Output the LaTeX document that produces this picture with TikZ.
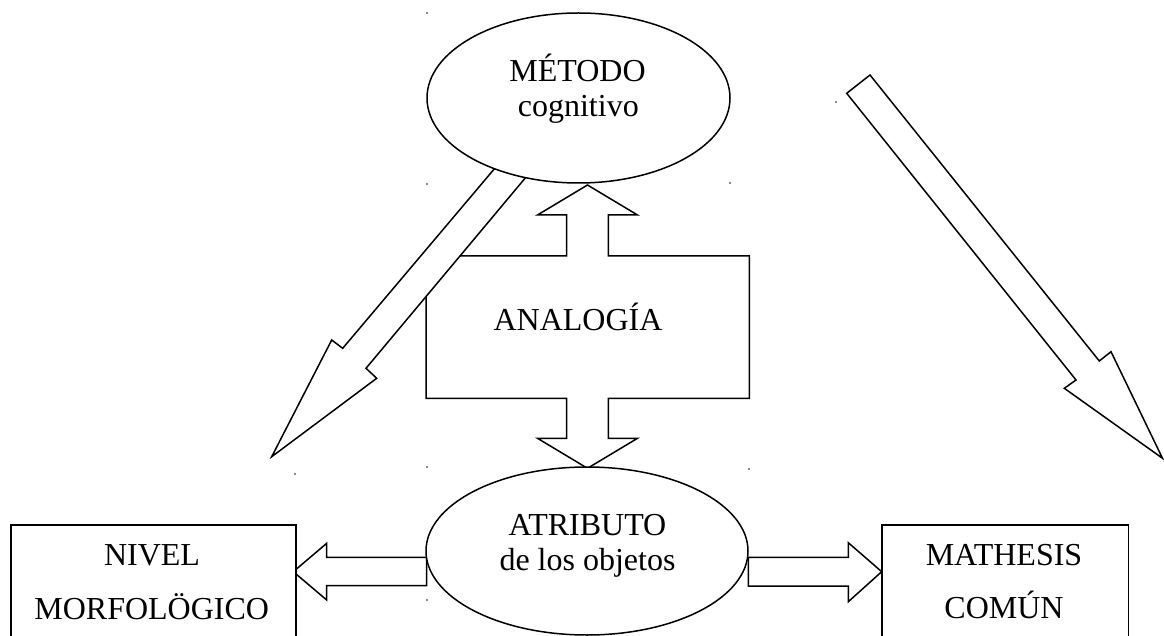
\documentclass[tikz,border=0pt]{standalone}
\usepackage{fontspec}
\setmainfont{Liberation Serif}
\usetikzlibrary{shapes.geometric}
\begin{document}
\begin{tikzpicture}[x=1pt,y=-1pt,
  outl/.style={draw=black,line width=1.5pt,fill=white,line join=miter},
  lbl/.style={anchor=base,inner sep=0pt,font=\fontsize{32}{38}\selectfont},
  oval/.style={ellipse,draw=black,line width=1.5pt,fill=white,inner sep=0pt},
  boxnode/.style={rectangle,draw=black,line width=1.5pt,fill=white,inner sep=0pt},
  handledot/.style={fill=black!45,draw=none,minimum size=1.6pt,inner sep=0pt,rectangle}]
\useasboundingbox (0,0) rectangle (1164,636);
\clip (0,0) rectangle (1164,636);
\fill[white] (0,0) rectangle (1164,636);

% ANALOGIA double block arrow
\draw[outl] (587.5,185) -- (637.5,215) -- (608.3,215) -- (608.3,256) -- (749.3,256)
  -- (749.3,398.3) -- (608.3,398.3) -- (608.3,438.3) -- (637.5,438.3) -- (587.5,468.3)
  -- (537.5,438.3) -- (566.7,438.3) -- (566.7,398.3) -- (426,398.3) -- (426,256)
  -- (566.7,256) -- (566.7,215) -- (537.5,215) -- cycle;
\node[lbl] (analogia) at (578,330) {ANALOGÍA};

% left diagonal block arrow
\draw[outl] (508.4,152.2) -- (342.7,348.3) -- (331.7,340) -- (271.7,456.7)
  -- (376.7,378.3) -- (366,368.3) -- (540.9,159.3) -- cycle;

% top ellipse
\node[oval,minimum width=303pt,minimum height=170pt] (metodo) at (578.5,98) {};
\node[lbl] (metodo1) at (577.5,82) {MÉTODO};
\node[lbl] (metodo2) at (578.3,117) {cognitivo};

% right diagonal block arrow
\draw[outl] (846.7,93.3) -- (870,75) -- (1099.3,361) -- (1111,351.7) -- (1162.5,458.3)
  -- (1064.3,388.3) -- (1076,380) -- cycle;

% side block arrows
\draw[outl] (426.7,557.3) -- (326.7,557.3) -- (326.7,543.3) -- (293.3,571.7)
  -- (326.7,600) -- (326.7,585.7) -- (426.7,585.7) -- cycle;
\draw[outl] (748.3,557.3) -- (848.3,557.3) -- (848.3,542.7) -- (881.7,571.7)
  -- (848.3,601.7) -- (848.3,586) -- (748.3,586) -- cycle;

% bottom ellipse
\node[oval,minimum width=322pt,minimum height=168pt] (atributo) at (587,551) {};
\node[lbl] (atributo1) at (587.5,535) {ATRIBUTO};
\node[lbl] (atributo2) at (587.5,570) {de los objetos};

% boxes
\node[boxnode,minimum width=285pt,minimum height=130pt,anchor=north west] (nivel) at (10,524) {};
\node[lbl] (nivel1) at (152,565) {NIVEL};
\node[lbl] (nivel2) at (151.7,619.3) {MORFOLÖGICO};
\node[boxnode,minimum width=246.7pt,minimum height=130pt,anchor=north west] (mathesis) at (881,524) {};
\node[lbl] (mathesis1) at (1004,565) {MATHESIS};
\node[lbl] (mathesis2) at (1004,618) {COMÚN};

% small handle marks
\foreach \p/\n in {{(427,13)}/m1,{(427,184)}/m2,{(730,183)}/m3,{(836,102)}/m4,
  {(427,467)}/m5,{(749,469)}/m6,{(295,474)}/m7,{(427,600)}/m8}
  \node[handledot] (\n) at \p {};
\end{tikzpicture}
\end{document}
